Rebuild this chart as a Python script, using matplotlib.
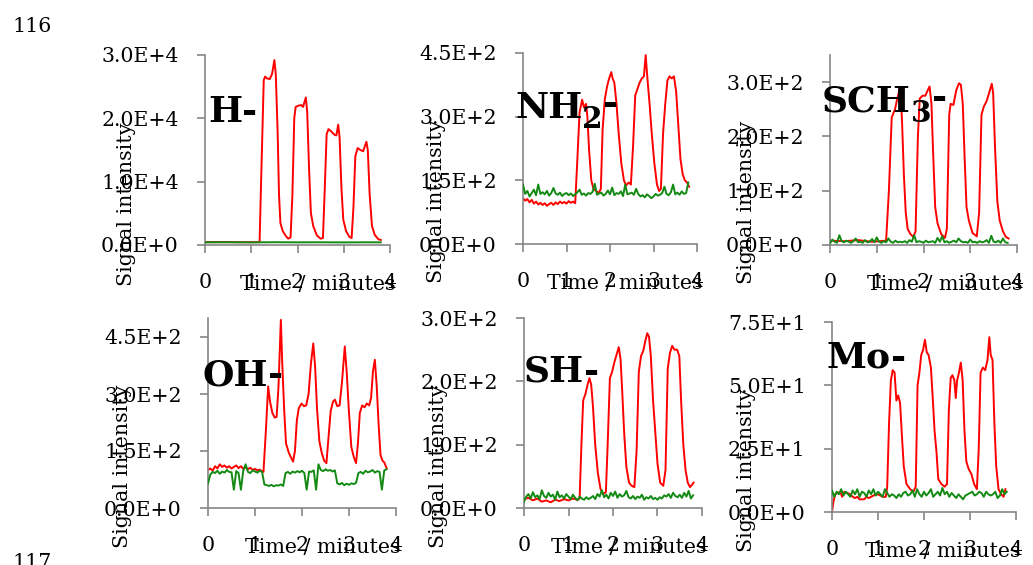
import matplotlib
matplotlib.use("Agg")
import matplotlib.pyplot as plt
from matplotlib.ticker import FuncFormatter, FixedLocator

# ---------------- data ----------------
green_t = [round(i * 0.05, 2) for i in range(77)]  # sample times 0 .. 3.8 min

# H-
h_red_t = [0, 0.4, 0.8, 1.18, 1.22, 1.27, 1.30, 1.34, 1.40, 1.45, 1.50, 1.53, 1.57, 1.60, 1.63, 1.68,
           1.75, 1.80, 1.85, 1.89, 1.93, 1.96, 2.02, 2.08, 2.12, 2.18, 2.21, 2.25, 2.29, 2.34, 2.42,
           2.50, 2.55, 2.59, 2.63, 2.67, 2.72, 2.80, 2.84, 2.88, 2.91, 2.95, 2.99, 3.05, 3.12, 3.17,
           3.21, 3.25, 3.30, 3.36, 3.42, 3.49, 3.52, 3.56, 3.61, 3.67, 3.75, 3.80]
h_red_v = [450, 460, 440, 450, 12000, 26000, 26600, 26300, 26200, 27000, 29200, 27000, 18000, 8000,
           3500, 2200, 1400, 1000, 1200, 8000, 20000, 21800, 22000, 22100, 21800, 23300, 21000, 12000,
           5000, 3000, 1500, 1000, 1100, 9000, 17500, 18300, 18000, 17400, 17300, 19000, 17000, 9000,
           4000, 2200, 1300, 1100, 6000, 14000, 15300, 15000, 14800, 16300, 15000, 8000, 3000, 1600,
           900, 800]
h_green_t = [0, 0.5, 1.0, 1.5, 2.0, 2.5, 3.0, 3.5, 3.8]
h_green_v = [420, 430, 410, 440, 420, 430, 410, 430, 420]

# NH2-
nh2_red_t = [0, 0.05, 0.1, 0.15, 0.2, 0.25, 0.3, 0.35, 0.4, 0.45, 0.5, 0.55, 0.6, 0.65, 0.7, 0.75,
             0.8, 0.85, 0.9, 0.95, 1.0, 1.05, 1.1, 1.15, 1.2, 1.25, 1.3, 1.36, 1.40, 1.45, 1.48, 1.52,
             1.57, 1.62, 1.68, 1.74, 1.79, 1.83, 1.88, 1.93, 1.98, 2.03, 2.06, 2.10, 2.15, 2.20, 2.26,
             2.32, 2.37, 2.43, 2.48, 2.53, 2.58, 2.63, 2.68, 2.73, 2.78, 2.82, 2.86, 2.91, 2.96, 3.02,
             3.08, 3.13, 3.17, 3.22, 3.27, 3.32, 3.37, 3.42, 3.47, 3.52, 3.57, 3.62, 3.67, 3.72, 3.77,
             3.82]
nh2_red_v = [108, 102, 106, 98, 104, 95, 100, 93, 97, 92, 96, 90, 94, 97, 92, 98, 94, 100, 96, 99,
             95, 101, 97, 100, 96, 200, 310, 340, 322, 330, 300, 220, 150, 130, 125, 120, 130, 270,
             340, 370, 390, 405, 390, 380, 330, 260, 190, 150, 138, 145, 140, 230, 350, 365, 380, 390,
             395, 445, 390, 330, 260, 190, 140, 125, 130, 260, 330, 385, 395, 390, 395, 360, 280, 200,
             165, 150, 145, 135]
nh2_green_v = [140, 118, 125, 112, 120, 128, 115, 140, 118, 122,
               117, 125, 114, 120, 132, 119, 116, 121, 113, 118,
               120, 115, 119, 113, 117, 122, 128, 116, 119, 114,
               120, 118, 123, 142, 116, 119, 121, 114, 118, 126,
               117, 133, 115, 120, 118, 124, 113, 140, 117, 119,
               121, 116, 130, 118, 112, 115, 110, 117, 113, 108,
               112, 118, 114, 116, 120, 135, 118, 115, 122, 140,
               117, 121, 116, 124, 118, 120, 145]

# SCH3-
sch3_red_t = [0, 0.3, 0.6, 0.9, 1.2, 1.26, 1.32, 1.39, 1.44, 1.50, 1.54, 1.58, 1.62, 1.66, 1.72, 1.78,
              1.83, 1.88, 1.92, 1.98, 2.04, 2.09, 2.13, 2.17, 2.21, 2.25, 2.30, 2.38, 2.46, 2.50, 2.55,
              2.58, 2.64, 2.70, 2.76, 2.80, 2.84, 2.88, 2.92, 2.97, 3.05, 3.14, 3.19, 3.24, 3.29, 3.35,
              3.42, 3.46, 3.49, 3.53, 3.58, 3.63, 3.70, 3.76, 3.82]
sch3_red_v = [8, 7, 9, 6, 8, 100, 235, 250, 270, 290, 230, 130, 60, 30, 20, 15, 25, 200, 270, 275,
              275, 285, 292, 260, 160, 70, 40, 20, 13, 30, 240, 260, 258, 285, 298, 295, 260, 160, 70,
              45, 22, 16, 60, 240, 255, 265, 285, 297, 280, 180, 80, 45, 25, 15, 12]
sch3_green_v = [3, 10, 6, 4, 18, 7, 5, 8, 6, 4,
                7, 12, 5, 6, 4, 9, 5, 6, 11, 5,
                14, 6, 4, 7, 5, 12, 6, 4, 8, 5,
                6, 5, 7, 4, 9, 6, 18, 5, 7, 6,
                4, 8, 5, 6, 7, 4, 13, 6, 16, 5,
                7, 4, 6, 8, 5, 12, 7, 5, 6, 4,
                10, 5, 6, 4, 7, 5, 6, 9, 4, 17,
                6, 5, 8, 4, 12, 5, 4]

# OH-
oh_red_t = [0, 0.05, 0.1, 0.15, 0.2, 0.25, 0.3, 0.35, 0.4, 0.45, 0.5, 0.55, 0.6, 0.65, 0.7, 0.75,
            0.8, 0.85, 0.9, 0.95, 1.0, 1.05, 1.1, 1.15, 1.18, 1.23, 1.28, 1.32, 1.37, 1.42, 1.46,
            1.50, 1.55, 1.58, 1.62, 1.66, 1.72, 1.77, 1.81, 1.85, 1.89, 1.93, 1.99, 2.04, 2.09, 2.14,
            2.19, 2.24, 2.28, 2.32, 2.37, 2.42, 2.47, 2.52, 2.56, 2.61, 2.66, 2.70, 2.75, 2.80, 2.85,
            2.91, 2.95, 3.0, 3.05, 3.1, 3.15, 3.19, 3.23, 3.28, 3.33, 3.38, 3.43, 3.47, 3.51, 3.55,
            3.59, 3.63, 3.67, 3.71, 3.75, 3.80]
oh_red_v = [100, 104, 98, 110, 104, 115, 108, 112, 106, 110, 104, 108, 112, 105, 110, 103, 107,
            102, 106, 100, 103, 99, 101, 96, 95, 200, 320, 280, 250, 238, 240, 320, 495, 380, 260,
            170, 145, 132, 122, 150, 230, 262, 275, 268, 270, 300, 380, 433, 370, 260, 175, 145,
            125, 118, 180, 255, 280, 285, 268, 270, 330, 425, 360, 250, 160, 135, 118, 170, 250,
            270, 265, 275, 270, 290, 360, 390, 320, 220, 140, 125, 120, 105]
oh_green_v = [65, 88, 95, 92, 98, 90, 96, 93, 100, 95,
              94, 48, 97, 92, 48, 98, 115, 95, 92, 99,
              96, 93, 98, 95, 62, 60, 58, 61, 57, 60,
              59, 62, 58, 92, 95, 90, 96, 93, 97, 94,
              98, 92, 48, 96, 95, 99, 48, 115, 100, 97,
              102, 98, 100, 96, 99, 65, 62, 66, 60, 64,
              61, 65, 63, 66, 92, 95, 90, 98, 94, 96,
              100, 93, 97, 95, 48, 99, 102]

# SH-
sh_red_t = [0, 0.1, 0.2, 0.3, 0.4, 0.5, 0.6, 0.7, 0.8, 0.9, 1.0, 1.1, 1.2, 1.25, 1.29, 1.33, 1.38,
            1.43, 1.47, 1.51, 1.55, 1.60, 1.66, 1.72, 1.78, 1.84, 1.88, 1.93, 1.98, 2.03, 2.08, 2.13,
            2.17, 2.21, 2.25, 2.30, 2.36, 2.42, 2.48, 2.53, 2.58, 2.63, 2.68, 2.73, 2.77, 2.81, 2.85,
            2.90, 2.95, 3.0, 3.06, 3.13, 3.18, 3.23, 3.28, 3.33, 3.38, 3.44, 3.49, 3.53, 3.58, 3.63,
            3.68, 3.73, 3.78, 3.81]
sh_red_v = [14, 16, 12, 15, 10, 12, 9, 13, 11, 14, 12, 15, 13, 15, 100, 170, 180, 195, 205, 195, 160,
            100, 55, 30, 22, 25, 100, 205, 215, 230, 242, 254, 235, 180, 120, 65, 40, 35, 33, 90,
            215, 240, 248, 265, 276, 270, 240, 170, 120, 70, 40, 35, 60, 220, 245, 256, 250, 250,
            240, 170, 100, 60, 40, 33, 37, 40]
sh_green_v = [10, 18, 22, 15, 25, 17, 20, 14, 28, 19,
              16, 24, 18, 21, 13, 26, 17, 20, 15, 22,
              18, 14, 21, 16, 12, 18, 15, 13, 17, 14,
              16, 19, 14, 22, 18, 28, 17, 21, 15, 24,
              19, 26, 16, 22, 18, 20, 27, 17, 15, 19,
              14, 18, 16, 21, 13, 17, 15, 19, 14, 16,
              13, 17, 15, 20, 18, 22, 16, 24, 19, 17,
              21, 16, 24, 18, 27, 15, 20]

# Mo-
mo_red_t = [0, 0.03, 0.07, 0.12, 0.18, 0.22, 0.27, 0.33, 0.4, 0.45, 0.5, 0.55, 0.6, 0.7, 0.75, 0.8,
            0.9, 1.0, 1.05, 1.1, 1.17, 1.2, 1.24, 1.28, 1.32, 1.36, 1.40, 1.44, 1.48, 1.52, 1.56,
            1.62, 1.70, 1.77, 1.82, 1.86, 1.90, 1.94, 1.98, 2.02, 2.06, 2.10, 2.15, 2.19, 2.23, 2.27,
            2.31, 2.38, 2.45, 2.50, 2.54, 2.58, 2.62, 2.66, 2.69, 2.72, 2.76, 2.80, 2.84, 2.88, 2.92,
            2.97, 3.03, 3.09, 3.15, 3.19, 3.23, 3.28, 3.33, 3.38, 3.42, 3.45, 3.49, 3.53, 3.57, 3.62,
            3.68, 3.73, 3.77]
mo_red_v = [0, 4, 7, 7.5, 8, 6, 8, 7.5, 7, 6, 5.5, 6, 5, 5, 6, 5.5, 6.5, 7, 6.5, 6, 6, 10, 35, 52,
            56, 55, 44, 46, 43, 30, 18, 11, 9, 8, 10, 50, 55, 62, 64, 68, 63, 62, 57, 45, 32, 24,
            13, 11, 10, 11, 40, 53, 54, 52, 45, 52, 55, 59, 52, 32, 20, 17, 15, 11, 9, 25, 55, 57,
            56, 60, 69, 62, 60, 35, 18, 9, 7, 6, 9]
mo_green_v = [8.5, 6, 8, 7, 9, 6.5, 8, 7, 6, 8.5,
              7, 9, 6, 8, 7.5, 6, 8.5, 7, 9, 6.5,
              8, 7, 6, 9, 7.5, 6, 7, 6.5, 5.5, 7,
              6, 7.5, 8, 6.5, 7, 8.5, 6, 9, 7, 6,
              8, 6.5, 7.5, 9, 6, 7, 8, 6.5, 9.5, 7,
              8, 6, 7.5, 6.5, 5.5, 7, 6, 5, 6.5, 7,
              7.5, 8, 6.5, 7, 8, 7.5, 6, 8, 7, 6.5,
              7, 8, 5.5, 6.5, 9, 7, 8]

x_ticks = [0, 1, 2, 3, 4]
y_ticks_h = [0, 10000, 20000, 30000]
y_ticks_nh2 = [0, 150, 300, 450]
y_ticks_sch3 = [0, 100, 200, 300]
y_ticks_oh = [0, 150, 300, 450]
y_ticks_sh = [0, 100, 200, 300]
y_ticks_mo = [0, 25, 50, 75]

x_label = "Time / minutes"
y_label = "Signal intensity"

# ---------------- figure ----------------
W, H = 1033, 565
fig = plt.figure(figsize=(W / 100, H / 100), dpi=100)
FONT = "DejaVu Serif"
FS = 14.8
BIG = 26

RED = "#ff0000"
GREEN = "#138a13"
AXC = "#868686"


def sci(v, pos=None):
    s = f"{v:.1E}"
    m, e = s.split("E")
    return f"{m}E{e[0]}{int(e[1:])}"


def box(x0, x1, ytop, ybot):
    return [x0 / W, 1 - ybot / H, (x1 - x0) / W, (ybot - ytop) / H]


panels = [
    (box(205, 390, 55, 245), 30000, y_ticks_h, h_red_t, h_red_v, h_green_t, h_green_v,
     ("H", None, 208, 122), (126, 204), 0.61),
    (box(523, 697, 53, 244), 450, y_ticks_nh2, nh2_red_t, nh2_red_v, green_t, nh2_green_v,
     ("NH", "2", 515, 118), (437, 201), 0.586),
    (box(830, 1017, 55, 245), 350, y_ticks_sch3, sch3_red_t, sch3_red_v, green_t, sch3_green_v,
     ("SCH", "3", 822, 112), (747, 202), 0.615),
    (box(208, 396, 318, 508), 500, y_ticks_oh, oh_red_t, oh_red_v, green_t, oh_green_v,
     ("OH", None, 203, 385), (122, 466), 0.609),
    (box(524, 702, 318, 508), 300, y_ticks_sh, sh_red_t, sh_red_v, green_t, sh_green_v,
     ("SH", None, 524, 382), (439, 466), 0.59),
    (box(832, 1016, 322, 512), 75, y_ticks_mo, mo_red_t, mo_red_v, green_t, mo_green_v,
     ("Mo", None, 827, 368), (747, 470), 0.60),
]

fig.canvas.draw()
renderer = fig.canvas.get_renderer()

for (bx, ymax, yt, rt, rv, gt, gv, lab, ylc, xlc) in panels:
    ax = fig.add_axes(bx)
    ax.plot(rt, rv, color=RED, lw=1.4, zorder=2)
    ax.plot(gt, gv, color=GREEN, lw=1.4, zorder=3)
    ax.set_xlim(0, 4)
    ax.set_ylim(0, ymax)
    ax.xaxis.set_major_locator(FixedLocator(x_ticks))
    ax.yaxis.set_major_locator(FixedLocator(yt))
    ax.yaxis.set_major_formatter(FuncFormatter(sci))
    for s in ("top", "right"):
        ax.spines[s].set_visible(False)
    for s in ("left", "bottom"):
        ax.spines[s].set_color(AXC)
        ax.spines[s].set_linewidth(1.2)
    ax.tick_params(axis="both", direction="out", length=6, width=1.2, color=AXC,
                   labelsize=FS, labelcolor="black")
    ax.tick_params(axis="y", pad=13)
    ax.tick_params(axis="x", pad=14)
    for t in ax.get_xticklabels() + ax.get_yticklabels():
        t.set_fontfamily(FONT)
    ax.patch.set_alpha(0)

    # axis titles (placed as in the reference, overlapping tick labels)
    ax.text(xlc, -0.237, x_label, transform=ax.transAxes, ha="center", va="baseline",
            fontsize=FS, family=FONT, clip_on=False)
    fig.text(ylc[0] / W, 1 - ylc[1] / H, y_label, rotation=90, ha="center", va="center",
             fontsize=FS, family=FONT)

    # big bold ion label
    main, sub, lx, ly = lab
    t1 = fig.text(lx / W, 1 - ly / H, main, fontsize=BIG, fontweight="bold", family=FONT,
                  ha="left", va="baseline")
    bb = t1.get_window_extent(renderer)
    x_next = bb.x1
    if sub is not None:
        t2 = fig.text(x_next / W, 1 - (ly + 10) / H, sub, fontsize=BIG * 0.82,
                      fontweight="bold", family=FONT, ha="left", va="baseline")
        x_next = t2.get_window_extent(renderer).x1
        fig.text(x_next / W, 1 - (ly - 4) / H, "-", fontsize=BIG, fontweight="bold",
                 family=FONT, ha="left", va="baseline")
    else:
        fig.text(x_next / W, 1 - ly / H, "-", fontsize=BIG, fontweight="bold",
                 family=FONT, ha="left", va="baseline")

# page line numbers
fig.text(12 / W, 1 - 32 / H, "116", fontsize=FS, family=FONT, ha="left", va="baseline")
fig.text(12 / W, 1 - 568 / H, "117", fontsize=FS, family=FONT, ha="left", va="baseline")

fig.savefig("out.png", dpi=100)
